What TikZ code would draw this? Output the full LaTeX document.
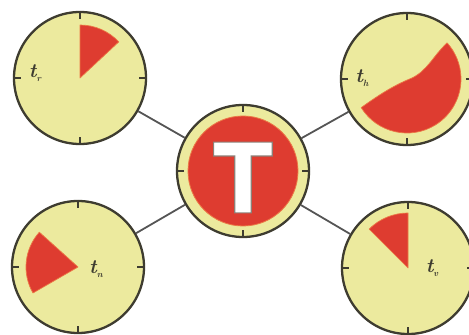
\documentclass[tikz,border=0pt]{standalone}
\usepackage{fontspec}
\newfontfamily\tfont{DejaVu Sans Bold}[FakeStretch=0.9,RawFeature={embolden=1.2}]
\definecolor{dialyel}{RGB}{236,234,158}
\definecolor{dialred}{RGB}{222,60,48}
\definecolor{dialedge}{RGB}{236,120,70}
\definecolor{rimc}{RGB}{62,60,48}
\definecolor{linkc}{RGB}{85,85,85}
\begin{document}
\begin{tikzpicture}[x=1pt,y=1pt,
  dial/.style={circle,draw=rimc,line width=2.3pt,fill=dialyel,minimum size=132pt,inner sep=0pt},
  wedge/.style={fill=dialred,draw=dialedge,line width=0.7pt,line join=round},
  tick/.style={draw=rimc,line width=1.6pt},
  link/.style={draw=linkc,line width=1.8pt},
  lab/.style={font=\fontsize{20}{20}\selectfont\bfseries\itshape,text=rimc,inner sep=0pt}]
\useasboundingbox (0,0) rectangle (469,335);
\node[dial] (tl) at (80,257) {};
\node[dial] (tr) at (407,256) {};
\node[dial] (bl) at (78,68) {};
\node[dial] (br) at (408,67) {};
\node[dial] (c) at (243,164) {};
% links
\draw[link] (tl) -- (c);
\draw[link] (tr) -- (c);
\draw[link] (bl) -- (c);
\draw[link] (br) -- (c);
% ticks
\foreach \n in {tl,tr,bl,br,c}{
  \foreach \a in {0,90,180,270}{
    \draw[tick] ([shift={(\a:67)}]\n.center) -- ([shift={(\a:59)}]\n.center);
  }
}
% wedges
\draw[wedge] (tl.center) -- ++(43:53) arc[start angle=43,end angle=90,radius=53] -- cycle;
\draw[wedge] (bl.center) -- ++(138:52) arc[start angle=138,end angle=210,radius=52] -- cycle;
\draw[wedge] (br.center) -- ++(90:55) arc[start angle=90,end angle=135,radius=55] -- cycle;
\draw[wedge] ([shift={(212:54)}]tr.center) arc[start angle=212,end angle=402,radius=54]
  .. controls (433,279) and (428,265) .. (412,257)
  .. controls (392,249) and (376,238) .. cycle;
% centre
\node[circle,fill=dialred,draw=dialedge,line width=0.8pt,minimum size=110pt,inner sep=0pt] (cr) at (c.center) {};
\node[font=\fontsize{97}{97}\selectfont\tfont,text=white,inner sep=0pt] (tt) at (243,157.5) {\special{pdf:code 0.55 0.50 0.47 RG}T};
% labels
\node[lab] (lr) at (35,262) {t\raisebox{-4pt}{\fontsize{9}{9}\selectfont r}};
\node[lab] (lh) at (362,257) {t\raisebox{-4pt}{\fontsize{9}{9}\selectfont h}};
\node[lab] (ln) at (96,66) {t\raisebox{-4pt}{\fontsize{9}{9}\selectfont n}};
\node[lab] (lv) at (432,67) {t\raisebox{-4pt}{\fontsize{9}{9}\selectfont v}};
\end{tikzpicture}
\end{document}
